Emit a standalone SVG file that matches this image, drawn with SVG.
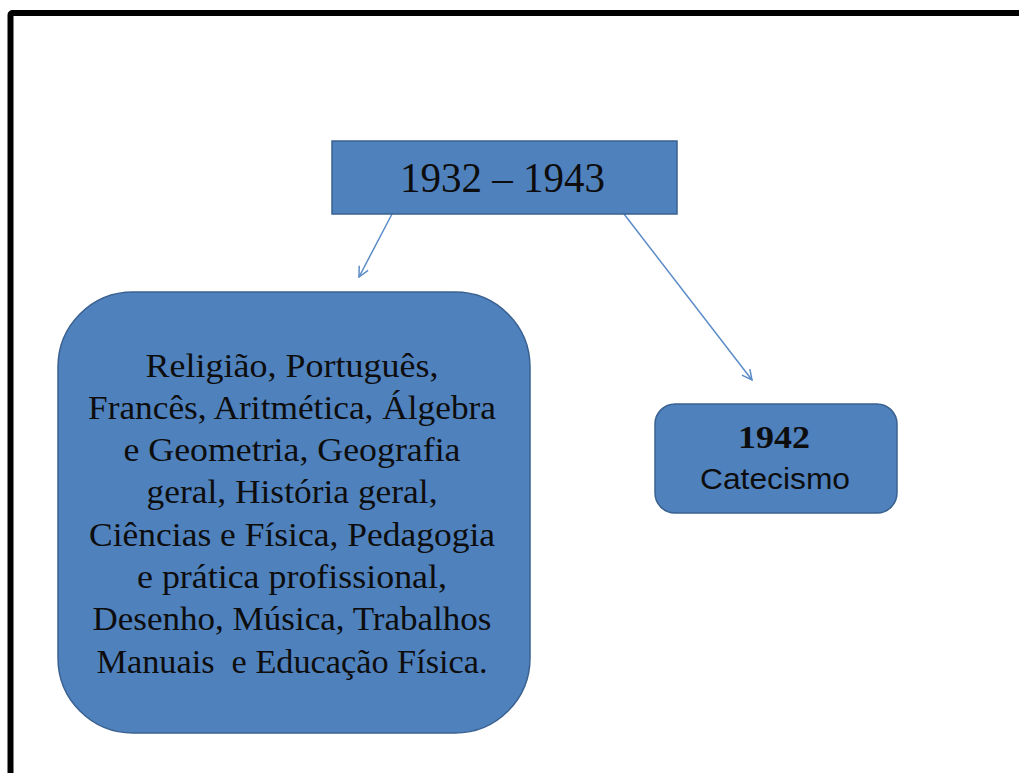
<svg xmlns="http://www.w3.org/2000/svg" width="1019" height="773" viewBox="0 0 1019 773">
<defs>
<style>
.box{fill:#4F81BD;stroke:#3A6190;stroke-width:1.5}
.serif{font-family:"Liberation Serif","Times New Roman",serif;fill:#0d0d0d}
.sans{font-family:"Liberation Sans",Arial,sans-serif;fill:#0d0d0d}
.conn{stroke:#5B8CC8;stroke-width:1.5;fill:none}
.pre{white-space:pre}
</style>
<marker id="ah" viewBox="0 0 12 12" refX="11" refY="6" markerWidth="12" markerHeight="12" markerUnits="userSpaceOnUse" orient="auto">
<path d="M1,1 L11,6 L1,11" fill="none" stroke="#5B8CC8" stroke-width="1.5"/>
</marker>
</defs>
<rect x="0" y="0" width="1019" height="773" fill="#ffffff"/>
<rect x="10.5" y="13" width="1100" height="900" rx="2" fill="none" stroke="#000" stroke-width="6"/>
<g id="connectors">
<line class="conn" x1="392" y1="214" x2="359" y2="277" marker-end="url(#ah)"/>
<line class="conn" x1="624" y1="214" x2="752" y2="380" marker-end="url(#ah)"/>
</g>
<g id="node-title">
<rect class="box" x="332" y="141" width="345" height="73"/>
<text class="serif" x="502.5" y="192" font-size="43" text-anchor="middle" textLength="205" lengthAdjust="spacingAndGlyphs">1932 – 1943</text>
</g>
<g id="node-subjects">
<rect class="box" x="58" y="292" width="472" height="441" rx="75" ry="75"/>
<g class="serif" font-size="33.5" text-anchor="middle">
<text x="292" y="376.5" textLength="293" lengthAdjust="spacingAndGlyphs">Religião, Português,</text>
<text x="292" y="418.8" textLength="408" lengthAdjust="spacingAndGlyphs">Francês, Aritmética, Álgebra</text>
<text x="292" y="461" textLength="337" lengthAdjust="spacingAndGlyphs">e Geometria, Geografia</text>
<text x="292" y="503.3" textLength="291" lengthAdjust="spacingAndGlyphs">geral, História geral,</text>
<text x="292" y="545.6" textLength="406" lengthAdjust="spacingAndGlyphs">Ciências e Física, Pedagogia</text>
<text x="292" y="587.9" textLength="310" lengthAdjust="spacingAndGlyphs">e prática profissional,</text>
<text x="292" y="630.2" textLength="399" lengthAdjust="spacingAndGlyphs">Desenho, Música, Trabalhos</text>
<text class="pre" x="292" y="672.5" textLength="391" lengthAdjust="spacingAndGlyphs">Manuais  e Educação Física.</text>
</g>
</g>
<g id="node-1942">
<rect class="box" x="655" y="404" width="242" height="109" rx="20" ry="20"/>
<text class="serif" x="774" y="448" font-size="32" font-weight="bold" text-anchor="middle" textLength="72" lengthAdjust="spacingAndGlyphs">1942</text>
<text class="sans" x="775" y="489" font-size="30" text-anchor="middle" textLength="150" lengthAdjust="spacingAndGlyphs">Catecismo</text>
</g>
</svg>
